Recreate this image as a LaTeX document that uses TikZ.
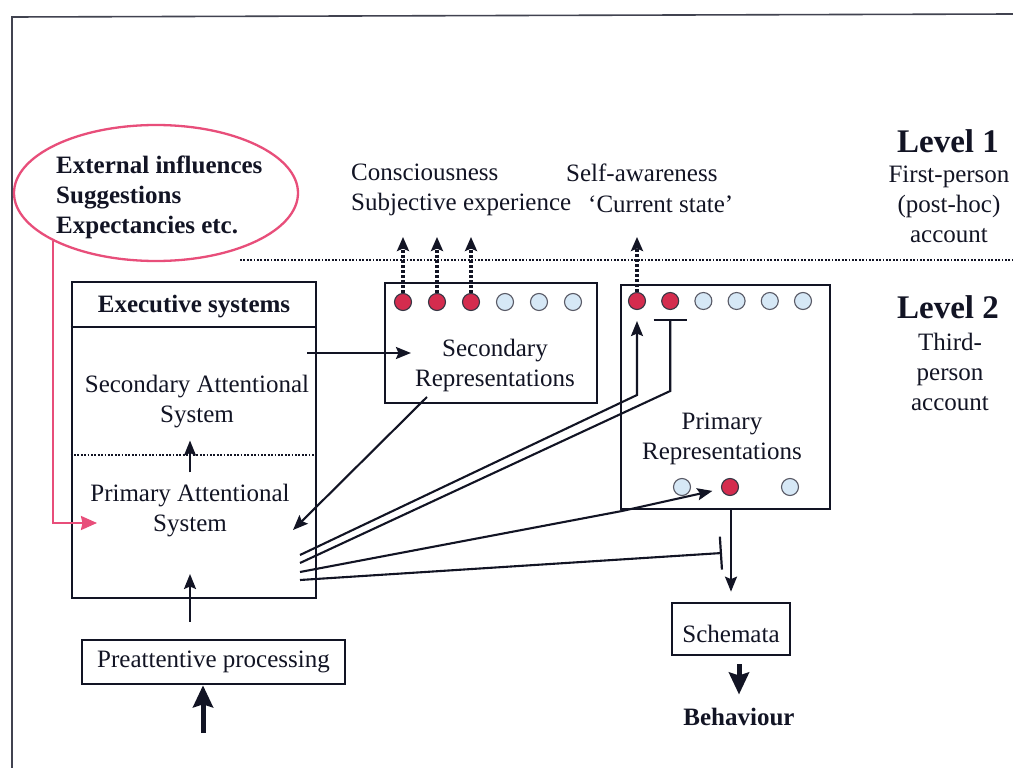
\documentclass[tikz,border=0pt]{standalone}
\usepackage{fontspec}
\setmainfont{Liberation Serif}
\usetikzlibrary{arrows.meta,shapes.geometric}
\definecolor{ink}{RGB}{18,20,36}
\definecolor{rose}{RGB}{232,78,122}
\definecolor{dotred}{RGB}{212,44,78}
\definecolor{dotblue}{RGB}{214,232,246}

\begin{document}
\begin{tikzpicture}[x=1pt,y=-1pt,
  every node/.style={inner sep=0pt, text=ink},
  txt/.style={font=\fontsize{25}{30}\selectfont, align=center},
  btxt/.style={font=\bfseries\fontsize{25}{30}\selectfont, align=center},
  lvl/.style={font=\bfseries\fontsize{33}{36}\selectfont},
  boxed/.style={draw=ink, line width=2.7pt},
  arr/.style={draw=ink, line width=2.1pt, -{Stealth[length=15pt,width=12pt,inset=2.5pt]}},
  inhib/.style={draw=ink, line width=2.1pt, -{Bar[width=33pt,line width=2.2pt]}},
  dotup/.style={draw=ink, line width=3.4pt, dash pattern=on 2.6pt off 2.4pt,
    -{Stealth[length=14pt,width=12pt,inset=2.5pt]}},
  thickarr/.style={draw=ink, line width=5pt, -{Stealth[length=22pt,width=20pt,inset=3pt]}},
  pinkarr/.style={draw=rose, line width=2.3pt, -{Stealth[length=16pt,width=14pt,inset=1.5pt]}},
  dotline/.style={draw=ink, line width=2.3pt, dash pattern=on 1.8pt off 1.6pt},
  redbead/.style={circle, draw=ink!85, line width=1.1pt, fill=dotred, minimum size=17pt},
  bluebead/.style={circle, draw=ink!70, line width=1.1pt, fill=dotblue, minimum size=17pt}
]
\fill[white] (0,0) rectangle (1013,768);
\useasboundingbox (0,0) rectangle (1013,768);

% page frame
\draw[ink!80, line width=1.6pt] (1013,14) -- (12,17) -- (12,768);

% level divider
\draw[dotline] (240,260) -- (1013,260);

% level labels
\node[lvl] (lv1) at (948,140.8) {Level 1};
\node[txt] (lv1d) at (949,204.5) {First-person\\(post-hoc)\\account};
\node[lvl] (lv2) at (948,306.8) {Level 2};
\node[txt] (lv2d) at (950,371.5) {Third-\\person\\account};

% external influences
\node[ellipse, draw=rose, line width=2.3pt, minimum width=284pt, minimum height=136pt] (ext) at (156,193) {};
\node[btxt, align=left, anchor=west] (extT) at (56,197) {External influences\\Suggestions\\Expectancies etc.};

% level 1 reports
\node[txt, align=left, anchor=west] (cons) at (351,190) {Consciousness\\Subjective experience};
\node[font=\fontsize{25}{30}\selectfont, anchor=base west] (selfA) at (566,181) {Self-awareness};
\node[font=\fontsize{25}{30}\selectfont, anchor=base west] (curS) at (588,212) {`Current state'};

% executive systems
\node[boxed, minimum width=244pt, minimum height=316pt] (exec) at (194,440) {};
\coordinate (sepY) at (0,327);
\coordinate (dotY) at (0,455);
\draw[ink, line width=2.4pt] (exec.west |- sepY) -- (exec.east |- sepY);
\draw[dotline] (exec.west |- dotY) -- (exec.east |- dotY);
\node[btxt] (execT) at (194,307) {Executive systems};
\node[txt] (sasT) at (197,402) {Secondary Attentional\\System};
\node[txt] (pasT) at (190,511) {Primary Attentional\\System};

% preattentive processing
\node[boxed, minimum width=263pt, minimum height=44pt, font=\fontsize{25}{30}\selectfont] (pre) at (213.5,662) {Preattentive processing};

% secondary representations
\node[boxed, minimum width=212pt, minimum height=120pt] (sec) at (491,343) {};
\node[txt] (secT) at (495,365) {Secondary\\Representations};
\foreach \i/\s in {0/redbead,1/redbead,2/redbead,3/bluebead,4/bluebead,5/bluebead}
  \node[\s] (s\i) at (403+34*\i,302) {};

% primary representations
\node[boxed, minimum width=209pt, minimum height=224pt] (prim) at (725.5,397) {};
\node[txt] (primT) at (722,439) {Primary\\Representations};
\foreach \i/\s in {0/redbead,1/redbead,2/bluebead,3/bluebead,4/bluebead,5/bluebead}
  \node[\s] (p\i) at (637+33.2*\i,301) {};
\node[bluebead] (b0) at (682,487) {};
\node[redbead] (b1) at (730,487) {};
\node[bluebead] (b2) at (790,487) {};

% schemata and behaviour
\node[boxed, minimum width=118pt, minimum height=52pt] (schem) at (731,629) {};
\node[font=\fontsize{25}{30}\selectfont] (schemT) at (731,633.5) {Schemata};
\node[btxt] (beh) at (739,716.5) {Behaviour};

% reports rising to level 1
\coordinate (up) at (0,237);
\foreach \n in {s0,s1,s2,p0}
  \draw[dotup] (\n.north) -- (\n.north |- up);

% pink influence arrow
\coordinate (pinkEnd) at (97,523);
\draw[pinkarr] (ext.205) |- (pinkEnd);

% within the executive systems
\draw[arr, shorten <=12pt, shorten >=12pt] (pasT.north) -- (pasT.north |- sasT.south);
\coordinate (pasFoot) at (190,574);
\draw[arr, shorten <=17pt] (pre.north -| pasFoot) -- (pasFoot);
\coordinate (feed) at (203,733);
\draw[thickarr] (feed) -- (feed |- pre.south);

% exchange with secondary representations
\coordinate (sasOut) at (307,353);
\draw[arr, shorten >=4pt] (sasOut) -- (sasOut -| secT.west);
\coordinate (secOut) at (427,397);
\coordinate (pasIn) at (293,530);
\draw[arr] (secOut) -- (pasIn);

% control lines from the attentional system
\coordinate (o1) at (300,555);
\coordinate (o2) at (300,563);
\coordinate (o3) at (300,572);
\coordinate (o4) at (300,580);
\coordinate (rk1) at (0,395);
\coordinate (rk2) at (0,391);
\coordinate (k1) at (p0 |- rk1);
\coordinate (k2) at (p1 |- rk2);
\coordinate (k3) at (622,511);
\coordinate (k4) at (722,553);
\draw[arr, shorten >=11pt] (o1) -- (k1) -- (p0);
\draw[inhib, shorten >=9pt] (o2) -- (k2) -- (p1);
\draw[arr, shorten >=9pt] (o3) -- (k3) -- (b1);
\draw[inhib] (o4) -- (k4);

% output path
\draw[arr, shorten >=10pt] (schem.north |- prim.south) -- (schem.north);
\draw[thickarr, shorten <=8pt, shorten >=13pt] (beh.north |- schem.south) -- (beh.north);
\end{tikzpicture}
\end{document}
